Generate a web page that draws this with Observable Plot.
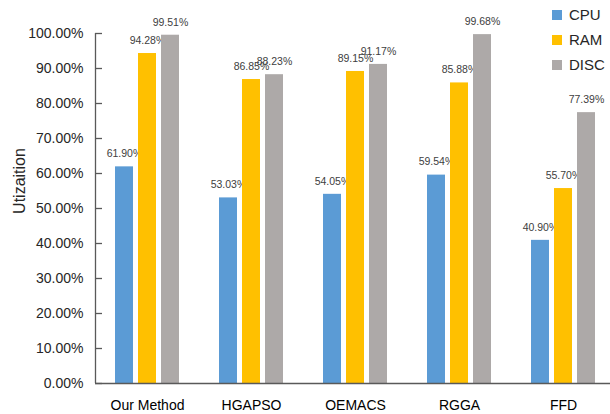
<!DOCTYPE html>
<html>
<head>
<meta charset="utf-8">
<script src="https://cdn.jsdelivr.net/npm/d3@7"></script>
<script src="https://cdn.jsdelivr.net/npm/@observablehq/plot@0.6"></script>
<style>
  html, body { margin: 0; padding: 0; background: #fff; }
  #wrap { position: relative; width: 610px; height: 414px; font-family: "Liberation Sans", Arial, sans-serif; }
  #legend { position: absolute; left: 552px; top: 2px; font-size: 15px; color: #262626; }
  .li { display: flex; align-items: center; height: 25px; }
  .sw { width: 10px; height: 10px; margin-right: 7px; }
  #ytitle { position: absolute; left: 20px; top: 181px; transform: translate(-50%, -50%) rotate(-90deg); font-size: 16px; color: #262626; white-space: nowrap; }
</style>
</head>
<body>
<div id="wrap"><div id="legend"></div><div id="ytitle">Utizaition</div></div>
<script>
const categories = ["Our Method", "HGAPSO", "OEMACS", "RGGA", "FFD"];
const seriesNames = ["CPU", "RAM", "DISC"];
const cpu  = [61.90, 53.03, 54.05, 59.54, 40.90];
const ram  = [94.28, 86.85, 89.15, 85.88, 55.70];
const disc = [99.51, 88.23, 91.17, 99.68, 77.39];
const yTicks = [0, 10, 20, 30, 40, 50, 60, 70, 80, 90, 100];
const colors = ["#5B9BD5", "#FFC000", "#ADA9A8"];
const offsets = [-23, 0, 23];

const seriesValues = [cpu, ram, disc];
const data = [];
seriesNames.forEach((s, i) => categories.forEach((c, j) => data.push({category: c, series: s, value: seriesValues[i][j]})));

const barMarks = [];
seriesNames.forEach((s, i) => {
  const d = data.filter(r => r.series === s);
  barMarks.push(Plot.barY(d, {x: "category", y: "value", fill: colors[i], insetLeft: 43, insetRight: 43, dx: offsets[i]}));
  barMarks.push(Plot.text(d, {x: "category", y: "value", text: r => r.value.toFixed(2) + "%", dx: offsets[i], dy: -13, fontSize: 10.5, fill: "#404040"}));
});

const chart = Plot.plot({
  width: 610,
  height: 414,
  marginTop: 33,
  marginBottom: 31,
  marginLeft: 95,
  marginRight: 0,
  style: {fontFamily: "'Liberation Sans', Arial, sans-serif", background: "transparent"},
  x: {domain: categories, range: [95, 615], padding: 0, label: null},
  y: {domain: [0, 100], label: null},
  marks: [
    ...barMarks,
    Plot.axisY(yTicks, {tickSize: 0, tickPadding: 12, tickFormat: d => d.toFixed(2) + "%", fontSize: 14, fill: "#262626", label: null}),
    Plot.axisX({tickSize: 0, tickPadding: 17, fontSize: 14, fill: "#000", label: null}),
    Plot.tickY(yTicks, {y: d => d, x: () => "Our Method", insetRight: 97, stroke: "#595959", strokeWidth: 1.3}),
    Plot.ruleX([0], {x: () => "Our Method", dx: -52, y1: 0, y2: 100, stroke: "#595959", strokeWidth: 1.3}),
    Plot.ruleY([0], {stroke: "#595959", strokeWidth: 1.3})
  ]
});
document.getElementById("wrap").prepend(chart);
chart.style.position = "absolute";
chart.style.left = "0";
chart.style.top = "0";

const legend = document.getElementById("legend");
seriesNames.forEach((s, i) => {
  const row = document.createElement("div");
  row.className = "li";
  const sw = document.createElement("div");
  sw.className = "sw";
  sw.style.background = colors[i];
  const t = document.createElement("span");
  t.textContent = s;
  row.appendChild(sw);
  row.appendChild(t);
  legend.appendChild(row);
});
</script>
</body>
</html>
